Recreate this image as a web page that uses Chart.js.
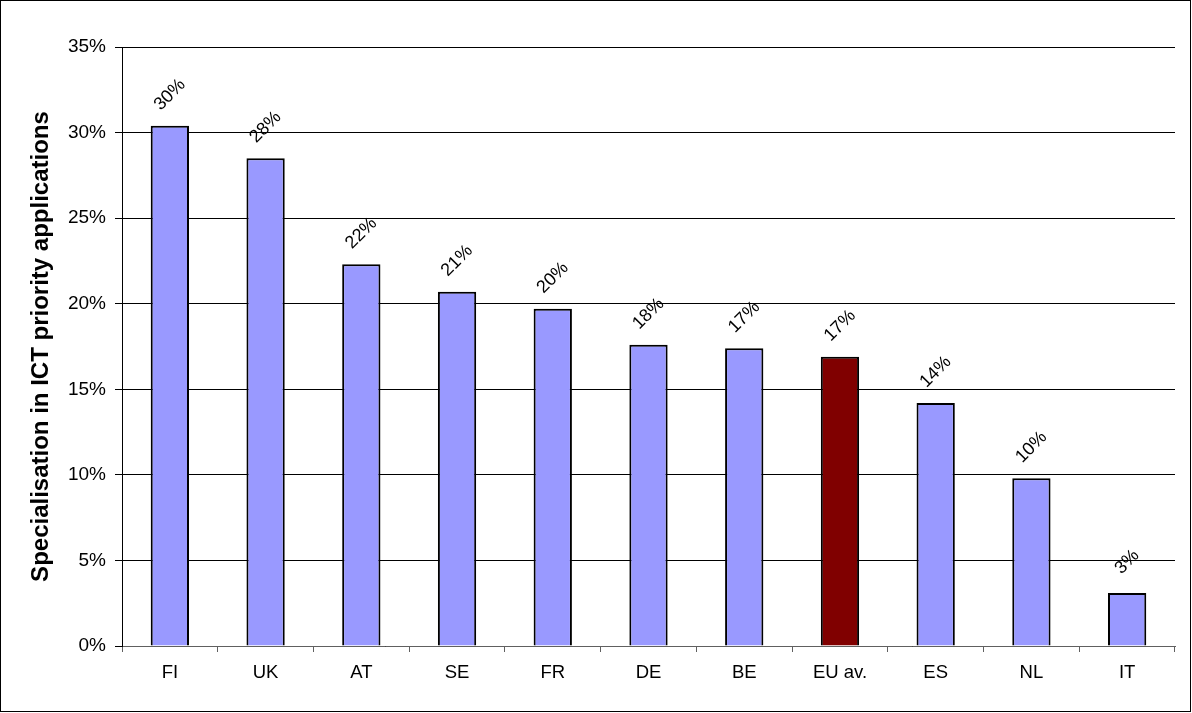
<!DOCTYPE html>
<html>
<head>
<meta charset="utf-8">
<script src="https://cdn.jsdelivr.net/npm/chart.js@4/dist/chart.umd.min.js"></script>
<style>
  html, body { margin: 0; padding: 0; background: #fff; }
  #wrap { width: 1192px; height: 713px; }
</style>
</head>
<body>
<div id="wrap"><canvas id="chart" width="1192" height="713"></canvas></div>
<script>
const paises = ['FI', 'UK', 'AT', 'SE', 'FR', 'DE', 'BE', 'EU av.', 'ES', 'NL', 'IT'];
const valores = [30.4, 28.5, 22.3, 20.7, 19.7, 17.6, 17.4, 16.9, 14.2, 9.8, 3.1];
const etiquetas = ['30%', '28%', '22%', '21%', '20%', '18%', '17%', '17%', '14%', '10%', '3%'];
const colores = paises.map(p => p === 'EU av.' ? '#800000' : '#9999FF');

const FUENTE = '"Liberation Sans", Arial, sans-serif';

// marco y fondo blanco
const marco = {
  id: 'marco',
  beforeDraw(c) {
    const ctx = c.ctx;
    ctx.save();
    ctx.fillStyle = '#fff';
    ctx.fillRect(0, 0, c.width, c.height);
    ctx.strokeStyle = '#000';
    ctx.lineWidth = 1;
    ctx.strokeRect(0.5, 0.5, 1190, 711);
    ctx.restore();
  }
};

// etiquetas de valor giradas
const etiquetasValor = {
  id: 'etiquetasValor',
  afterDatasetsDraw(c) {
    const ctx = c.ctx;
    const meta = c.getDatasetMeta(0);
    ctx.save();
    ctx.font = '18px ' + FUENTE;
    ctx.fillStyle = '#000';
    ctx.textAlign = 'center';
    ctx.textBaseline = 'middle';
    meta.data.forEach((bar, i) => {
      ctx.save();
      ctx.translate(bar.x, bar.y - 31);
      ctx.rotate(-Math.PI / 4);
      ctx.fillText(etiquetas[i], 0, 0);
      ctx.restore();
    });
    ctx.restore();
  }
};

new Chart(document.getElementById('chart'), {
  type: 'bar',
  data: {
    labels: paises,
    datasets: [{
      data: valores,
      backgroundColor: colores,
      borderColor: '#000',
      borderWidth: 2,
      barPercentage: 0.4,
      categoryPercentage: 1
    }]
  },
  options: {
    responsive: false,
    animation: false,
    layout: { padding: { left: 0, right: 17, top: 47, bottom: 0 } },
    plugins: {
      legend: { display: false },
      tooltip: { enabled: false }
    },
    scales: {
      x: {
        grid: { offset: true, drawOnChartArea: false, color: '#606060', tickLength: 6 },
        border: { color: '#606060', width: 1 },
        ticks: { color: '#000', font: { family: FUENTE, size: 18.5 }, padding: 10, maxRotation: 0 },
        afterFit(s) { s.height = 67; }
      },
      y: {
        min: 0,
        max: 35,
        ticks: {
          stepSize: 5,
          color: '#000',
          font: { family: FUENTE, size: 19 },
          padding: 9,
          callback: v => v + '%'
        },
        grid: { color: '#000', lineWidth: 1, tickLength: 7 },
        border: { color: '#000', width: 1 },
        title: {
          display: true,
          text: 'Specialisation in ICT priority applications',
          color: '#000',
          font: { family: FUENTE, size: 24, weight: 'bold' },
          padding: { top: 27, bottom: 0 }
        },
        afterFit(s) { s.width = 122; }
      }
    }
  },
  plugins: [marco, etiquetasValor]
});
</script>
</body>
</html>
